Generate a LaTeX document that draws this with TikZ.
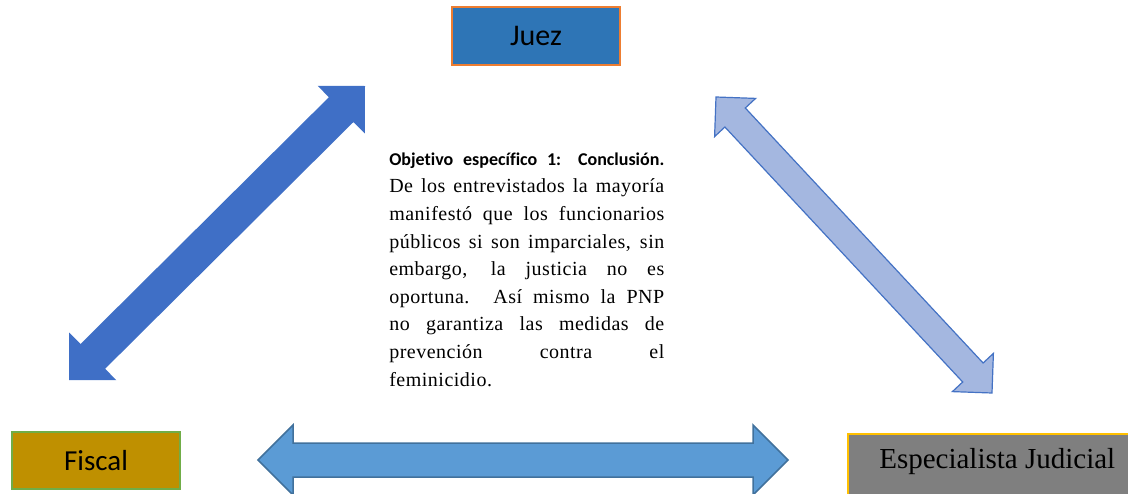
\documentclass[tikz,border=0pt]{standalone}
\usepackage{fontspec}
\setmainfont{Liberation Serif}
\newfontfamily\calibri[Ligatures=NoCommon]{Carlito}
\usepackage{tikz}
\usetikzlibrary{positioning}

\definecolor{juezfill}{HTML}{2E75B6}
\definecolor{juezline}{HTML}{ED7D31}
\definecolor{fiscalfill}{HTML}{BF9000}
\definecolor{fiscalline}{HTML}{70AD47}
\definecolor{especfill}{HTML}{7F7F7F}
\definecolor{especline}{HTML}{FFC000}
\definecolor{darkarrow}{HTML}{3F6FC6}
\definecolor{lightarrow}{HTML}{A4B7E0}
\definecolor{lightline}{HTML}{4472C4}
\definecolor{flatarrow}{HTML}{5B9BD5}
\definecolor{flatline}{HTML}{41719C}

\begin{document}
\begin{tikzpicture}[x=1pt, y=-1pt, semithick,
    role/.style={rectangle, line width=1.5pt, inner sep=0pt, minimum width=168pt,
      minimum height=58pt, font=\calibri\fontsize{29}{31}\selectfont},
    blockarrow/.style={line join=miter}]
  \useasboundingbox (0,0) rectangle (1128,493);

  \node[role, fill=juezfill, draw=juezline, font=\calibri\fontsize{30}{32}\selectfont] (juez) at (536,36) {Juez};
  \node[role, fill=fiscalfill, draw=fiscalline, minimum height=57pt] (fiscal) at (96,460.5) {Fiscal};
  \node[role, fill=especfill, draw=especline, anchor=north west, minimum width=299pt,
    text height=35pt, text depth=30pt, font=\fontsize{29}{31}\selectfont] (especialista) at (847,433) {Especialista Judicial};

  % Fiscal <-> Juez
  \fill[blockarrow, darkarrow] (69,380) -- (116.4,380.2) -- (105.1,368.8) -- (353.5,122.0)
    -- (364.8,133.4) -- (365,86) -- (317.6,85.8) -- (328.9,97.2) -- (80.5,344.0) -- (69.2,332.6) -- cycle;
  % Juez <-> Especialista
  \filldraw[blockarrow, fill=lightarrow, draw=lightline, line width=1.2pt] (716,97) -- (755.6,98.4)
    -- (745.3,108.0) -- (983.1,363.0) -- (993.4,353.4) -- (992,393) -- (952.4,391.6) -- (962.7,382.0)
    -- (724.9,127.0) -- (714.6,136.6) -- cycle;
  % Fiscal <-> Especialista
  \filldraw[blockarrow, fill=flatarrow, draw=flatline, line width=1.5pt] (258,460) -- (293,425)
    -- (293,443) -- (753,443) -- (753,425) -- (788,460) -- (753,495) -- (753,477) -- (293,477)
    -- (293,495) -- cycle;

  \node[anchor=north west, inner sep=0pt, text width=275pt, align=justify,
    font=\fontsize{20}{27.6}\selectfont\addfontfeature{LetterSpace=2.5}] (conclusion) at (389,151) {%
    \rule{0pt}{14pt}{\calibri\bfseries\fontsize{18}{20}\selectfont Objetivo específico 1: Conclusión.}\linebreak
    De los entrevistados la mayoría\linebreak
    manifestó que los funcionarios\linebreak
    públicos si son imparciales, sin\linebreak
    embargo, la justicia no es\linebreak
    oportuna. Así mismo la PNP\linebreak
    no garantiza las medidas de\linebreak
    prevención contra el\linebreak
    feminicidio.};
\end{tikzpicture}
\end{document}
